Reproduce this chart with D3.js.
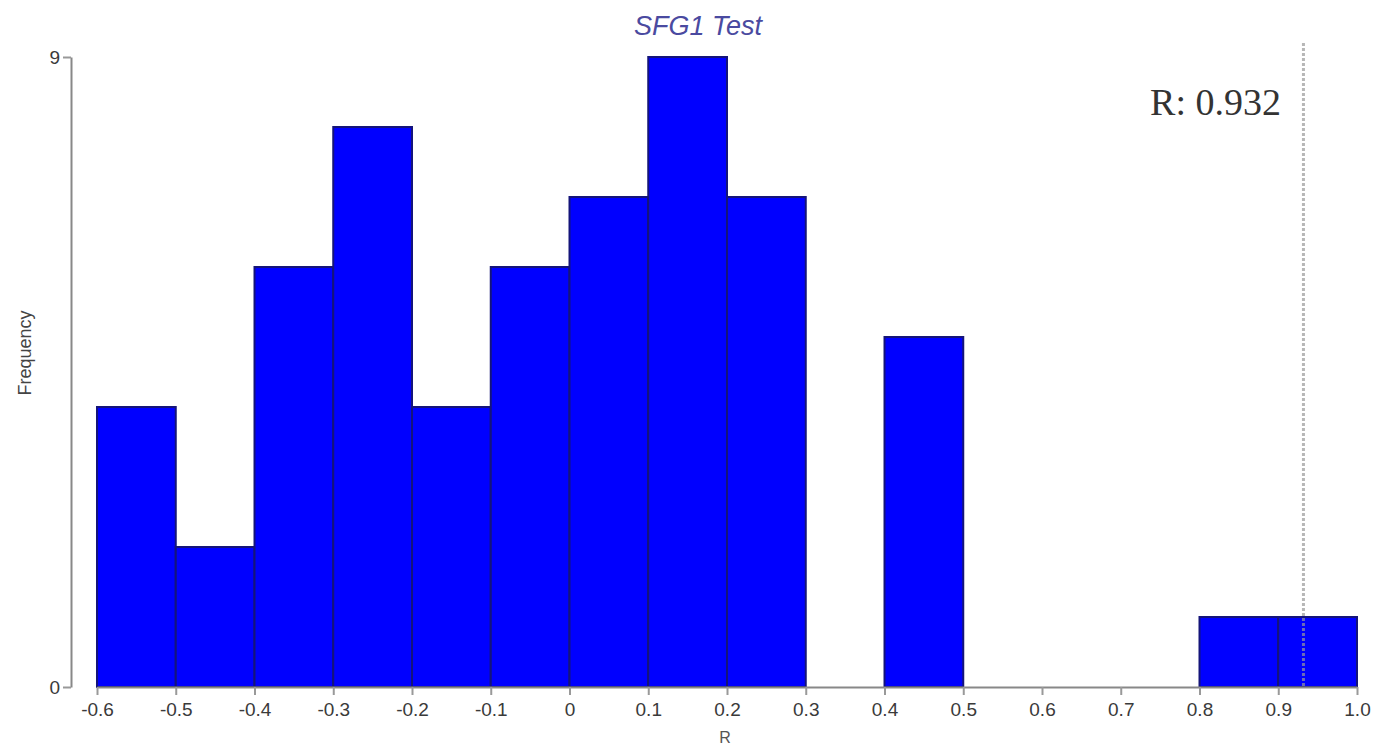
<!DOCTYPE html>
<html>
<head>
<meta charset="utf-8">
<script src="https://cdn.jsdelivr.net/npm/d3@7"></script>
<style>
  body { margin: 0; background: #fff; }
</style>
</head>
<body>
<svg width="1391" height="749"></svg>
<script>
// histogram bins (left edge, right edge) and counts
const binStarts = [-0.6, -0.5, -0.4, -0.3, -0.2, -0.1, 0.0, 0.1, 0.2, 0.3, 0.4, 0.5, 0.6, 0.7, 0.8, 0.9];
const binEnds   = [-0.5, -0.4, -0.3, -0.2, -0.1, 0.0, 0.1, 0.2, 0.3, 0.4, 0.5, 0.6, 0.7, 0.8, 0.9, 1.0];
const counts    = [4, 2, 6, 8, 4, 6, 7, 9, 7, 0, 5, 0, 0, 0, 1, 1];
const xTicks = [-0.6, -0.5, -0.4, -0.3, -0.2, -0.1, 0, 0.1, 0.2, 0.3, 0.4, 0.5, 0.6, 0.7, 0.8, 0.9, 1.0];
const yTicks = [0, 9];
const observedR = 0.932;

const sans = 'Arial, "Liberation Sans", sans-serif';
const svg = d3.select('svg');

const x = d3.scaleLinear().domain([-0.6, 1.0]).range([97, 1357]);
const y = d3.scaleLinear().domain([0, 9]).range([687, 57]);

const bins = binStarts.map((s, i) => ({ x0: s, x1: binEnds[i], n: counts[i] }))
  .filter(d => d.n > 0);

svg.append('g')
  .selectAll('rect')
  .data(bins)
  .join('rect')
    .attr('x', d => x(d.x0))
    .attr('y', d => y(d.n))
    .attr('width', d => x(d.x1) - x(d.x0))
    .attr('height', d => y(0) - y(d.n))
    .attr('fill', '#0000ff')
    .attr('stroke', '#14147a')
    .attr('stroke-width', 2);

// x axis
const xAxis = svg.append('g')
  .attr('transform', `translate(0, ${y(0)})`)
  .call(d3.axisBottom(x).tickValues(xTicks).tickSize(8).tickSizeOuter(0)
    .tickFormat(d => d === 0 ? '0' : d.toFixed(1)));
xAxis.attr('font-size', null);
xAxis.select('.domain').attr('stroke', '#888').attr('stroke-width', 2);
xAxis.selectAll('.tick line').attr('stroke', '#999').attr('stroke-width', 2);
xAxis.selectAll('.tick text')
  .style('font-family', sans).style('font-size', '19px')
  .attr('fill', '#3a3a3a').attr('dy', '0.95em');

// y axis
const yAxis = svg.append('g')
  .attr('transform', 'translate(71, 0)')
  .call(d3.axisLeft(y).tickValues(yTicks).tickSize(8).tickSizeOuter(0));
yAxis.attr('font-size', null);
yAxis.select('.domain').attr('stroke', '#888').attr('stroke-width', 2);
yAxis.selectAll('.tick line').attr('stroke', '#999').attr('stroke-width', 2);
yAxis.selectAll('.tick text')
  .style('font-family', sans).style('font-size', '19px')
  .attr('fill', '#3a3a3a');

// observed R marker
svg.append('line')
  .attr('x1', x(observedR)).attr('x2', x(observedR))
  .attr('y1', 43).attr('y2', y(0))
  .attr('stroke', '#999')
  .attr('stroke-opacity', 0.7)
  .attr('stroke-width', 3)
  .attr('stroke-dasharray', '3,2');

svg.append('text')
  .attr('x', 1281).attr('y', 115)
  .attr('text-anchor', 'end')
  .style('font-family', '"Liberation Serif", "DejaVu Serif", serif')
  .style('font-size', '38px')
  .attr('fill', '#333')
  .text(`R: ${observedR}`);

// title and labels
svg.append('text')
  .attr('x', 698).attr('y', 35)
  .attr('text-anchor', 'middle')
  .style('font-family', sans).style('font-size', '27px')
  .attr('font-style', 'italic')
  .attr('fill', '#4a4aa0')
  .text('SFG1 Test');

svg.append('text')
  .attr('x', 725).attr('y', 743)
  .attr('text-anchor', 'middle')
  .style('font-family', sans).style('font-size', '16px')
  .attr('fill', '#555')
  .text('R');

svg.append('text')
  .attr('transform', 'translate(31, 353) rotate(-90)')
  .attr('text-anchor', 'middle')
  .style('font-family', sans).style('font-size', '18px')
  .attr('fill', '#444')
  .text('Frequency');
</script>
</body>
</html>
